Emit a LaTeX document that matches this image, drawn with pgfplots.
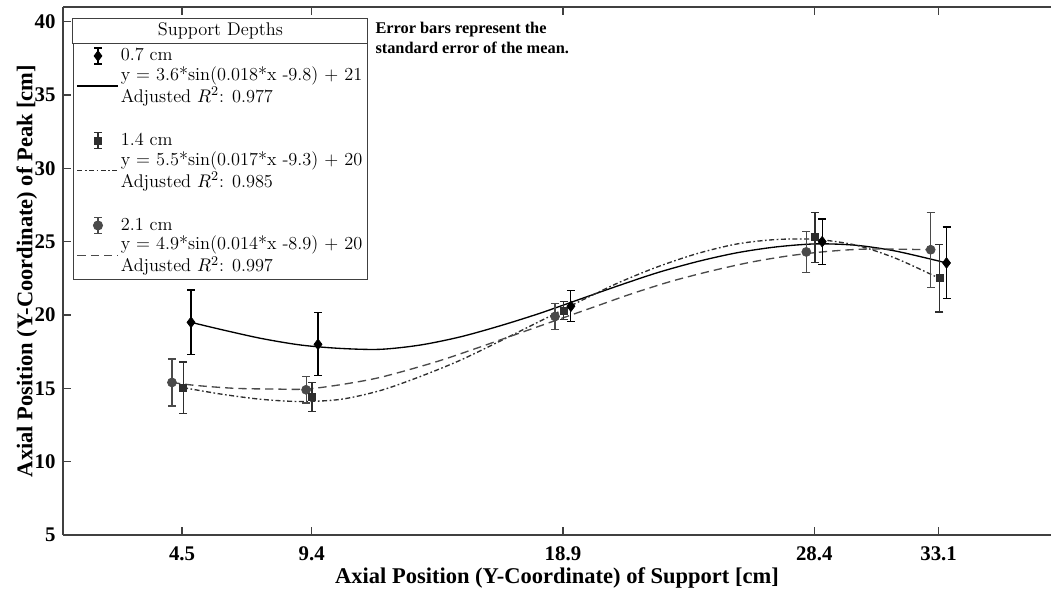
\documentclass[border=0pt]{standalone}
\usepackage{fontspec}
\usepackage{pgfplots}
\pgfplotsset{compat=1.18}
\usetikzlibrary{calc}
\newfontfamily\tnr{Liberation Serif}
\definecolor{axgray}{HTML}{404040}
\definecolor{sqgray}{HTML}{2E2E2E}
\definecolor{cirgray}{HTML}{4A4A4A}

\begin{document}
\begin{tikzpicture}
\begin{axis}[
  scale only axis,
  width=592.8pt, height=316.8pt,
  xmin=0, xmax=37.35, ymin=5, ymax=41,
  axis x line*=box, axis y line*=left,
  xtick={4.5,9.4,18.9,28.4,33.1},
  xticklabels={4.5,9.4,18.9,28.4,33.1},
  ytick={5,10,...,40},
  tick align=inside,
  xtick pos=both, ytick pos=left,
  major tick length=5pt,
  axis line style={axgray, line width=0.9pt, -},
  every tick/.style={axgray, line width=0.7pt},
  /pgf/number format/assume math mode=true,
  ticklabel style={font=\tnr\bfseries\fontsize{12.5}{14}\selectfont},
  xticklabel style={yshift=-3.5pt},
  yticklabel style={xshift=-1pt},
  xlabel={Axial Position (Y-Coordinate) of Support [cm]},
  ylabel={Axial Position (Y-Coordinate) of Peak [cm]},
  label style={font=\tnr\bfseries\fontsize{13.5}{15}\selectfont},
  xlabel style={at={(axis description cs:0.5,0)}, anchor=center, yshift=-25.8pt},
  ylabel style={at={(axis description cs:-0.0365,0.5)}, anchor=center, rotate=0},
  legend cell align=left,
  legend style={
    at={(rel axis cs:0.0101,0.9318)}, anchor=north west,
    draw=axgray, line width=0.6pt, fill=white,
    font=\fontsize{11}{13.2}\selectfont,
    inner xsep=2pt, inner ysep=2pt, row sep=0pt,
    nodes={inner sep=1pt, align=left},
    name=leg,
  },
]

% fitted curves
\addplot[black, line width=0.8pt, smooth, forget plot] coordinates {
  (4.84,19.5) (6,19.0) (7.5,18.4) (9,17.95) (10.5,17.72) (12,17.66)
  (13.5,17.95) (15,18.5) (16.5,19.25) (18,20.1) (19.5,21.05) (21,22.0)
  (22.5,22.9) (24,23.65) (25.5,24.25) (27,24.65) (28.5,24.85) (30,24.75)
  (31.5,24.35) (33.4,23.55)
};
\addplot[sqgray, line width=0.8pt, smooth, forget plot,
  dash pattern=on 3pt off 1.5pt on 1pt off 1.5pt] coordinates {
  (4.54,15.05) (6,14.6) (7.5,14.25) (9,14.1) (10.5,14.25) (12,14.85)
  (13.5,15.8) (15,16.9) (16.5,18.2) (18,19.55) (19.5,20.9) (21,22.2)
  (22.5,23.3) (24,24.2) (25.5,24.85) (27,25.15) (28.5,25.15) (30,24.75)
  (31.5,23.85) (33.13,22.5)
};
\addplot[cirgray, line width=0.8pt, smooth, forget plot,
  dash pattern=on 5pt off 3pt] coordinates {
  (4.12,15.4) (5,15.2) (6.5,15.0) (8,14.95) (9.19,14.95) (10.5,15.25)
  (12,15.75) (14,16.75) (15.5,17.65) (17,18.6) (18.5,19.55) (20,20.5)
  (21.5,21.45) (23,22.3) (24.5,23.0) (26,23.6) (27.5,24.05) (29,24.35)
  (30.5,24.5) (32.8,24.45)
};

% measured points with standard error
\addplot[only marks, forget plot, cirgray, mark=*, mark size=2.7pt,
  error bars/.cd, y dir=both, y explicit,
  error bar style={cirgray, line width=0.7pt},
  error mark options={rotate=90, mark size=2.4pt, cirgray, line width=0.7pt}]
coordinates {
  (4.12,15.4) +- (0,1.6)
  (9.19,14.9) +- (0,0.9)
  (18.6,19.9) +- (0,0.9)
  (28.1,24.3) +- (0,1.4)
  (32.8,24.45) +- (0,2.55)
};
\addplot[only marks, forget plot, sqgray, mark=square*, mark size=2.1pt,
  error bars/.cd, y dir=both, y explicit,
  error bar style={sqgray, line width=0.7pt},
  error mark options={rotate=90, mark size=2.4pt, sqgray, line width=0.7pt}]
coordinates {
  (4.54,15.05) +- (0,1.75)
  (9.41,14.4) +- (0,1.0)
  (18.93,20.3) +- (0,0.6)
  (28.43,25.3) +- (0,1.7)
  (33.13,22.5) +- (0,2.3)
};
\addplot[only marks, forget plot, black, mark=diamond*, mark size=3.2pt,
  error bars/.cd, y dir=both, y explicit,
  error bar style={black, line width=0.7pt},
  error mark options={rotate=90, mark size=2.4pt, black, line width=0.7pt}]
coordinates {
  (4.84,19.5) +- (0,2.2)
  (9.64,18.0) +- (0,2.15)
  (19.2,20.6) +- (0,1.05)
  (28.7,25.0) +- (0,1.55)
  (33.4,23.55) +- (0,2.45)
};

% legend
\addlegendimage{legend image code/.code={
  \draw[black, line width=0.7pt] (12.3pt,-4.8pt) -- (12.3pt,4.8pt)
    (10pt,-4.8pt) -- (14.6pt,-4.8pt) (10pt,4.8pt) -- (14.6pt,4.8pt);
  \draw[black, mark=diamond*, mark size=3pt] plot coordinates {(12.3pt,0pt)};}}
\addlegendentry{0.7 cm}
\addlegendimage{legend image code/.code={
  \draw[black, line width=0.8pt] (0pt,0pt) -- (24.6pt,0pt);}}
\addlegendentry{y = 3.6*sin(0.018*x -9.8) + 21\\Adjusted $R^2$: 0.977}
\addlegendimage{empty legend}
\addlegendentry{\rule{0pt}{11.5pt}}
\addlegendimage{legend image code/.code={
  \draw[sqgray, line width=0.7pt] (12.3pt,-4.8pt) -- (12.3pt,4.8pt)
    (10pt,-4.8pt) -- (14.6pt,-4.8pt) (10pt,4.8pt) -- (14.6pt,4.8pt);
  \draw[sqgray, mark=square*, mark size=2.1pt] plot coordinates {(12.3pt,0pt)};}}
\addlegendentry{1.4 cm}
\addlegendimage{legend image code/.code={
  \draw[sqgray, line width=0.8pt, dash pattern=on 3pt off 1.5pt on 1pt off 1.5pt]
    (0pt,0pt) -- (24.6pt,0pt);}}
\addlegendentry{y = 5.5*sin(0.017*x -9.3) + 20\\Adjusted $R^2$: 0.985}
\addlegendimage{empty legend}
\addlegendentry{\rule{0pt}{11.5pt}}
\addlegendimage{legend image code/.code={
  \draw[cirgray, line width=0.7pt] (12.3pt,-4.8pt) -- (12.3pt,4.8pt)
    (10pt,-4.8pt) -- (14.6pt,-4.8pt) (10pt,4.8pt) -- (14.6pt,4.8pt);
  \draw[cirgray, mark=*, mark size=2.7pt] plot coordinates {(12.3pt,0pt)};}}
\addlegendentry{2.1 cm}
\addlegendimage{legend image code/.code={
  \draw[cirgray, line width=0.8pt, dash pattern=on 5pt off 3pt]
    (0pt,0pt) -- (24.6pt,0pt);}}
\addlegendentry{y = 4.9*sin(0.014*x -8.9) + 20\\Adjusted $R^2$: 0.997}

\node[anchor=north west, align=left, inner sep=0pt,
  font=\tnr\bfseries\fontsize{9.8}{12}\selectfont]
  at (rel axis cs:0.316,0.972) {Error bars represent the\\standard error of the mean.};
\end{axis}

% legend title box
\draw[axgray, line width=0.6pt, fill=white] (leg.north west) rectangle ($(leg.north east)+(0,15pt)$);
\node[font=\fontsize{11}{13.2}\selectfont] at ($(leg.north)+(0,7.5pt)$) {Support Depths};

% page margins as in the reference
\path ($(current axis.south west)+(-37.8pt,-34.8pt)$) rectangle ($(current axis.north east)+(1.2pt,4.2pt)$);
\end{tikzpicture}
\end{document}
